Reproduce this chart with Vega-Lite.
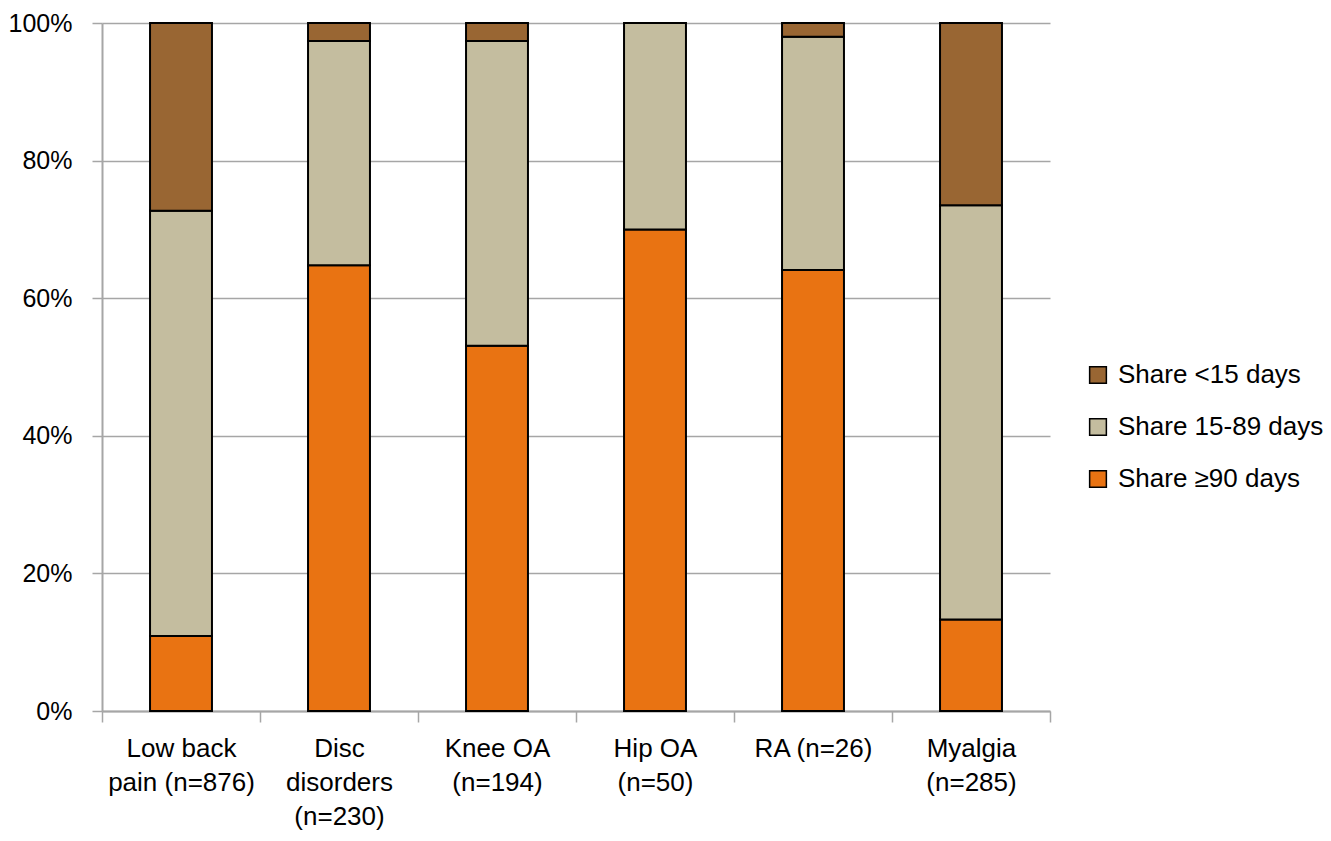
{
  "$schema": "https://vega.github.io/schema/vega-lite/v6.json",
  "autosize": "none",
  "width": 948,
  "height": 688,
  "padding": {"left": 102, "top": 23, "right": 281, "bottom": 130},
  "background": "white",
  "config": {
    "view": {"stroke": null},
    "font": "Liberation Sans, Arial"
  },
  "data": {
    "values": [
      {"cat": "Low back|pain (n=876)", "grp": "Share ≥90 days", "ord": 1, "v": 10.9},
      {"cat": "Low back|pain (n=876)", "grp": "Share 15-89 days", "ord": 2, "v": 61.8},
      {"cat": "Low back|pain (n=876)", "grp": "Share <15 days", "ord": 3, "v": 27.3},
      {"cat": "Disc|disorders|(n=230)", "grp": "Share ≥90 days", "ord": 1, "v": 64.8},
      {"cat": "Disc|disorders|(n=230)", "grp": "Share 15-89 days", "ord": 2, "v": 32.6},
      {"cat": "Disc|disorders|(n=230)", "grp": "Share <15 days", "ord": 3, "v": 2.6},
      {"cat": "Knee OA|(n=194)", "grp": "Share ≥90 days", "ord": 1, "v": 53.1},
      {"cat": "Knee OA|(n=194)", "grp": "Share 15-89 days", "ord": 2, "v": 44.3},
      {"cat": "Knee OA|(n=194)", "grp": "Share <15 days", "ord": 3, "v": 2.6},
      {"cat": "Hip OA|(n=50)", "grp": "Share ≥90 days", "ord": 1, "v": 70.0},
      {"cat": "Hip OA|(n=50)", "grp": "Share 15-89 days", "ord": 2, "v": 30.0},
      {"cat": "Hip OA|(n=50)", "grp": "Share <15 days", "ord": 3, "v": 0},
      {"cat": "RA (n=26)", "grp": "Share ≥90 days", "ord": 1, "v": 64.1},
      {"cat": "RA (n=26)", "grp": "Share 15-89 days", "ord": 2, "v": 33.9},
      {"cat": "RA (n=26)", "grp": "Share <15 days", "ord": 3, "v": 2.0},
      {"cat": "Myalgia|(n=285)", "grp": "Share ≥90 days", "ord": 1, "v": 13.3},
      {"cat": "Myalgia|(n=285)", "grp": "Share 15-89 days", "ord": 2, "v": 60.2},
      {"cat": "Myalgia|(n=285)", "grp": "Share <15 days", "ord": 3, "v": 26.5}
    ]
  },
  "mark": {"type": "bar", "stroke": "black", "strokeWidth": 2, "width": {"band": 0.392}},
  "encoding": {
    "x": {
      "field": "cat",
      "type": "nominal",
      "sort": null,
      "scale": {"paddingInner": 0, "paddingOuter": 0},
      "axis": {
        "title": null,
        "labelAngle": 0,
        "labelExpr": "split(datum.label, '|')",
        "labelFontSize": 26,
        "labelColor": "black",
        "labelLineHeight": 34,
        "labelPadding": 13,
        "tickBand": "extent",
        "tickSize": 11,
        "tickColor": "#A6A6A6",
        "tickWidth": 1.5,
        "domainColor": "#A6A6A6",
        "domainWidth": 2
      }
    },
    "y": {
      "field": "v",
      "type": "quantitative",
      "stack": "zero",
      "scale": {"domain": [0, 100], "nice": false},
      "axis": {
        "title": null,
        "values": [0, 20, 40, 60, 80, 100],
        "labelExpr": "datum.value + '%'",
        "labelFontSize": 25,
        "labelColor": "black",
        "labelPadding": 20,
        "tickSize": 10,
        "tickColor": "#A6A6A6",
        "tickWidth": 1.5,
        "domainColor": "#A6A6A6",
        "domainWidth": 2,
        "grid": true,
        "gridColor": "#A6A6A6",
        "gridWidth": 1.5
      }
    },
    "color": {
      "field": "grp",
      "type": "nominal",
      "scale": {
        "domain": ["Share <15 days", "Share 15-89 days", "Share ≥90 days"],
        "range": ["#996633", "#C4BD9F", "#E97312"]
      },
      "legend": {
        "title": null,
        "orient": "none",
        "legendX": 983,
        "legendY": 339,
        "symbolType": "square",
        "symbolSize": 280,
        "symbolStrokeColor": "black",
        "symbolStrokeWidth": 1.5,
        "symbolOpacity": 1,
        "labelFontSize": 26,
        "labelLimit": 0,
        "labelColor": "black",
        "labelOffset": 7,
        "rowPadding": 26
      }
    },
    "order": {"field": "ord", "type": "quantitative"}
  }
}
